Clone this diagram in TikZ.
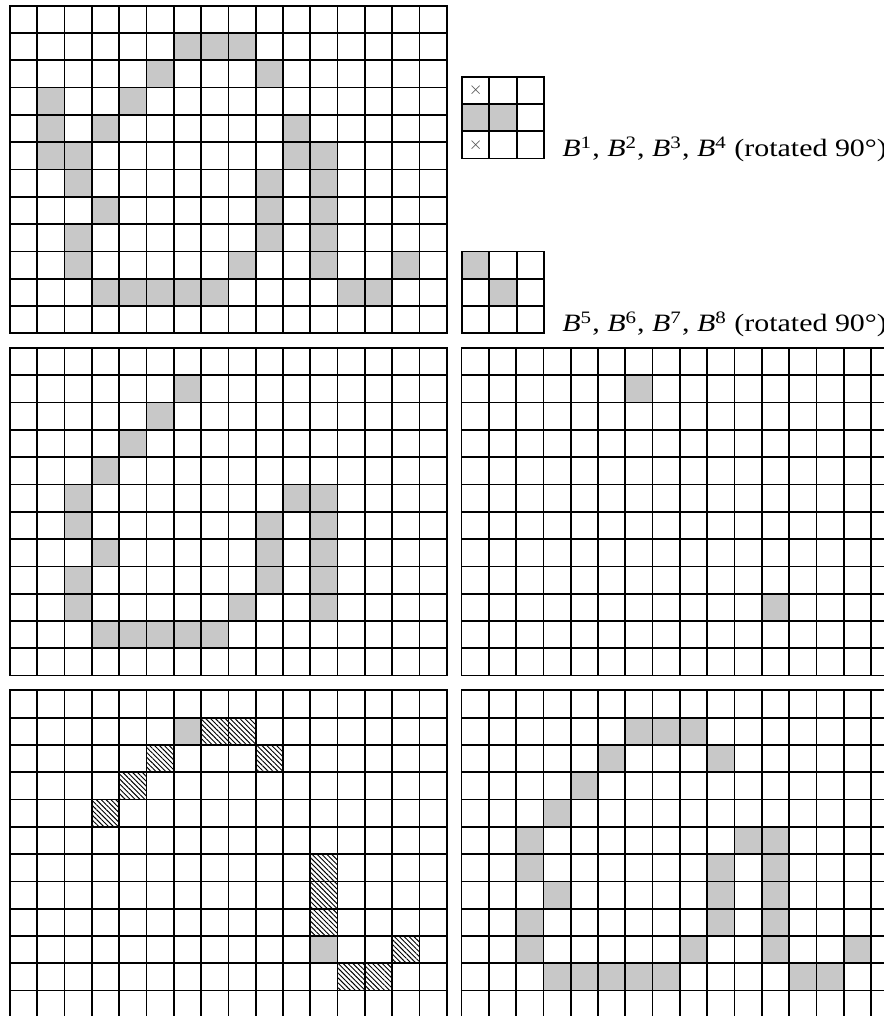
\documentclass[tikz,border=0pt]{standalone}
\usepackage{fontspec}
\setmainfont{Liberation Serif}
\usetikzlibrary{patterns.meta}
\definecolor{cellgray}{HTML}{C8C8C8}
\tikzset{
  gline/.style  ={line width=0.9pt, draw=black, line cap=rect},
  hit/.style    ={fill=cellgray},
  hatched/.style={pattern={Lines[angle=-45, distance=1.8pt, line width=0.5pt]}},
  xmark/.style  ={font=\small, text=black!70, inner sep=0pt},
  caption/.style={anchor=base west, inner sep=0pt, xscale=1.2, transform shape,
                  font=\fontsize{13}{15}\selectfont},
}
\newcommand{\cellgrid}[4]{%
  \foreach \xx in {0,...,#3}{\draw[gline] (#1+\xx,#2) -- (#1+\xx,#2+#4);}
  \foreach \yy in {0,...,#4}{\draw[gline] (#1,#2+\yy) -- (#1+#3,#2+\yy);}}
\newcommand{\cellfill}[4]{%
  \foreach \cx/\cy in {#4}{\fill[#3] (#1+\cx,#2+\cy) rectangle ++(1,1);}}
\newcommand{\Bsup}[1]{\textit{B}\textsuperscript{#1}}

\begin{document}
\begin{tikzpicture}[x=5mm, y=-5mm]
  \path[use as bounding box, fill=white] (-0.366,-0.209) rectangle (32.01,37.01);
  \clip (-0.366,-0.209) rectangle (32.01,37.01);

  % input image
  \cellfill{0}{0}{hit}{6/1,7/1,8/1, 5/2,9/2, 1/3,4/3, 1/4,3/4,10/4,
    1/5,2/5,10/5,11/5, 2/6,9/6,11/6, 3/7,9/7,11/7, 2/8,9/8,11/8,
    2/9,8/9,11/9,14/9, 3/10,4/10,5/10,6/10,7/10,12/10,13/10}
  \cellgrid{0}{0}{16}{12}

  % structuring elements
  \cellfill{16.56}{2.6}{hit}{0/1,1/1}
  \cellgrid{16.56}{2.6}{3}{3}
  \node[xmark] (xa) at (17.06,3.1) {$\times$};
  \node[xmark] (xb) at (17.06,5.1) {$\times$};
  \node[caption] (capa) at (20.22,5.52)
    {\Bsup{1}, \Bsup{2}, \Bsup{3}, \Bsup{4} (rotated 90\textdegree)};

  \cellfill{16.56}{9}{hit}{0/0,1/1}
  \cellgrid{16.56}{9}{3}{3}
  \node[caption] (capb) at (20.22,11.94)
    {\Bsup{5}, \Bsup{6}, \Bsup{7}, \Bsup{8} (rotated 90\textdegree)};

  % thinned once
  \cellfill{0}{12.54}{hit}{6/1, 5/2, 4/3, 3/4,
    2/5,10/5,11/5, 2/6,9/6,11/6, 3/7,9/7,11/7, 2/8,9/8,11/8,
    2/9,8/9,11/9, 3/10,4/10,5/10,6/10,7/10}
  \cellgrid{0}{12.54}{16}{12}

  % end points
  \cellfill{16.54}{12.54}{hit}{6/1,11/9}
  \cellgrid{16.54}{12.54}{16}{12}

  % dilation
  \cellfill{0}{25.08}{hit}{6/1,11/9}
  \cellfill{0}{25.08}{hatched}{7/1,8/1, 5/2,9/2, 4/3, 3/4,
    11/6, 11/7, 11/8, 14/9, 12/10,13/10}
  \cellgrid{0}{25.08}{16}{12}

  % result
  \cellfill{16.54}{25.08}{hit}{6/1,7/1,8/1, 5/2,9/2, 4/3, 3/4,
    2/5,10/5,11/5, 2/6,9/6,11/6, 3/7,9/7,11/7, 2/8,9/8,11/8,
    2/9,8/9,11/9,14/9, 3/10,4/10,5/10,6/10,7/10,12/10,13/10}
  \cellgrid{16.54}{25.08}{16}{12}
\end{tikzpicture}
\end{document}
